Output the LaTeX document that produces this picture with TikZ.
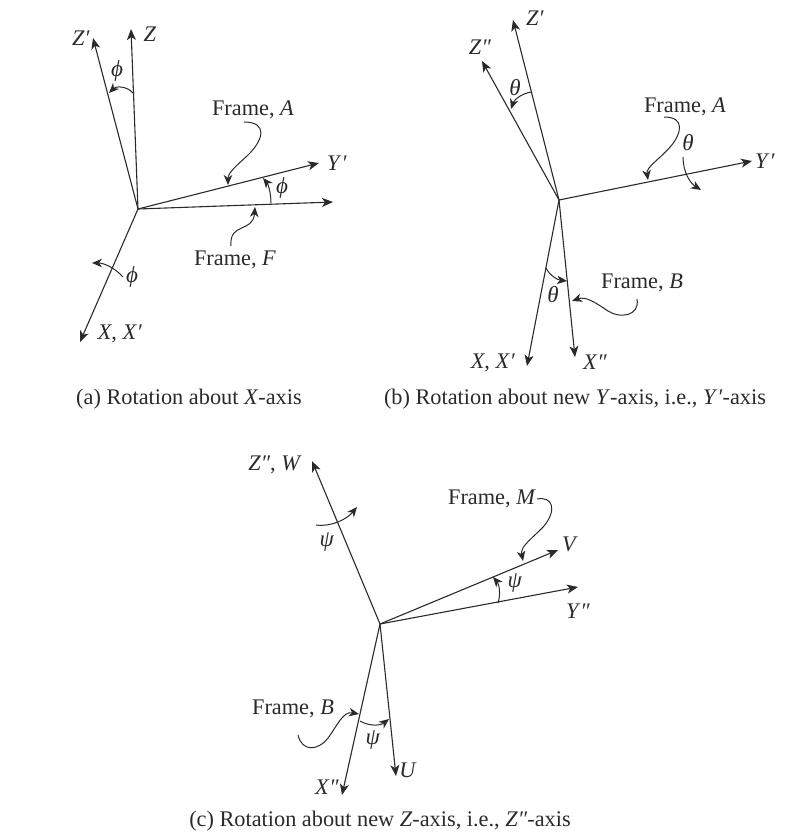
\documentclass[tikz,border=0pt]{standalone}
\usepackage{fontspec}
\setmainfont{Liberation Serif}
\usetikzlibrary{arrows.meta}
\definecolor{ink}{HTML}{2A2A2A}
\newcommand{\ph}{\textit{ϕ}}
\newcommand{\thh}{\textit{θ}}
\newcommand{\ps}{\textit{ψ}}
\newcommand{\pr}{\textit{′}}
\newcommand{\prr}{\textit{″}}
\tikzset{
  ax/.style={draw=ink,line width=1.1pt,-{Stealth[length=11pt,width=9pt,inset=3pt]}},
  lead/.style={draw=ink,line width=1pt,-{Stealth[length=10pt,width=8.5pt,inset=3pt]}},
  lab/.style={text=ink,font=\fontsize{22.3}{24}\selectfont,inner sep=0pt},
  greek/.style={text=ink,font=\fontsize{23}{25}\selectfont,inner sep=0pt},
  captext/.style={text=ink,font=\fontsize{22.3}{24}\selectfont,inner sep=0pt}
}
\begin{document}
\begin{tikzpicture}[x=1pt,y=-1pt]
\useasboundingbox (0,0) rectangle (801,840);
% (a)
\coordinate (oa) at (138,209);
\coordinate (az) at (131,29);
\coordinate (azp) at (93,38);
\coordinate (ayp) at (319,163);
\coordinate (ay) at (333,202);
\coordinate (ax) at (80,342);
\draw[ax] (oa)--(az); \draw[ax] (oa)--(azp); \draw[ax] (oa)--(ayp); \draw[ax] (oa)--(ay); \draw[ax] (oa)--(ax);
\node[lab] (lz) at (150,34) {\textit{Z}};
\node[lab] (lzp) at (81,38) {\textit{Z}\pr};
\node[lab] (lyp) at (337,163) {\textit{Y}\pr};
\node[lab] (lx) at (120,334) {\textit{X}, \textit{X}\pr};
\node[greek] (pa1) at (117,71) {\ph};
\node[greek] (pa2) at (282,188) {\ph};
\node[greek] (pa3) at (132,277) {\ph};
\node[lab] (fa) at (253,110) {Frame, \textit{A}};
\node[lab] (ff) at (235,260) {Frame, \textit{F}};
\coordinate (a1s) at (133,93); \coordinate (a1e) at (109,93);
\draw[lead] (a1s) .. controls (127,86) and (116,86) .. (a1e);
\coordinate (a2s) at (271,203); \coordinate (a2e) at (263,178);
\draw[lead] (a2s) .. controls (271,193) and (268,184) .. (a2e);
\coordinate (a3s) at (123,277); \coordinate (a3e) at (92,263);
\draw[lead] (a3s) .. controls (115,268) and (104,263) .. (a3e);
\coordinate (a4s) at (244,122); \coordinate (a4e) at (228,185);
\draw[lead] (a4s) .. controls (268,122) and (264,140) .. (247,156) .. controls (236,166) and (228,173) .. (a4e);
\coordinate (a5s) at (231,246); \coordinate (a5e) at (255,207);
\draw[lead] (a5s) .. controls (229,222) and (253,233) .. (a5e);
% (b)
\coordinate (ob) at (559,200);
\coordinate (bzp) at (513,20);
\coordinate (bzz) at (482,61);
\coordinate (byp) at (752,161);
\coordinate (bx) at (527,366);
\coordinate (bxx) at (575,357);
\draw[ax] (ob)--(bzp); \draw[ax] (ob)--(bzz); \draw[ax] (ob)--(byp); \draw[ax] (ob)--(bx); \draw[ax] (ob)--(bxx);
\node[lab] (lbzp) at (535,18) {\textit{Z}\pr};
\node[lab] (lbzz) at (480,47) {\textit{Z}\prr};
\node[lab] (lbyp) at (765,161) {\textit{Y}\pr};
\node[lab] (lbx) at (493,363) {\textit{X}, \textit{X}\pr};
\node[lab] (lbxx) at (595,362) {\textit{X}\prr};
\node[greek] (tb1) at (515,88) {\thh};
\node[greek] (tb2) at (688,143) {\thh};
\node[greek] (tb3) at (553,295) {\thh};
\node[lab] (fba) at (685,107) {Frame, \textit{A}};
\node[lab] (fbb) at (642,283) {Frame, \textit{B}};
\coordinate (b1s) at (532,92); \coordinate (b1e) at (511,109);
\draw[lead] (b1s) .. controls (522,93) and (514,100) .. (b1e);
\coordinate (b2s) at (683,157); \coordinate (b2e) at (701,190);
\draw[lead] (b2s) .. controls (683,172) and (690,183) .. (b2e);
\coordinate (b3s) at (546,268); \coordinate (b3e) at (567,281);
\draw[lead] (b3s) .. controls (550,276) and (558,280) .. (b3e);
\coordinate (b4s) at (664,117); \coordinate (b4e) at (648,180);
\draw[lead] (b4s) .. controls (686,117) and (681,134) .. (671,146) .. controls (660,159) and (646,167) .. (b4e);
\coordinate (b5s) at (637,299); \coordinate (b5e) at (572,301);
\draw[lead] (b5s) .. controls (640,316) and (620,319) .. (608,311) .. controls (596,303) and (586,296) .. (b5e);
% (c)
\coordinate (oc) at (380,624);
\coordinate (cw) at (312,461);
\coordinate (cv) at (558,550);
\coordinate (cy) at (578,587);
\coordinate (cx) at (342,795);
\coordinate (cu) at (396,776);
\draw[ax] (oc)--(cw); \draw[ax] (oc)--(cv); \draw[ax] (oc)--(cy); \draw[ax] (oc)--(cx); \draw[ax] (oc)--(cu);
\node[lab] (lcw) at (275,465) {\textit{Z}\prr, \textit{W}};
\node[lab] (lcv) at (570,544) {\textit{V}};
\node[lab] (lcy) at (578,611) {\textit{Y}\prr};
\node[lab] (lcx) at (327,787) {\textit{X}\prr};
\node[lab] (lcu) at (408,770) {\textit{U}};
\node[greek] (pc1) at (327,542) {\ps};
\node[greek] (pc2) at (515,583) {\ps};
\node[greek] (pc3) at (373,740) {\ps};
\node[lab] (fcm) at (492,499) {Frame, \textit{M}};
\node[lab] (fcb) at (293,709) {Frame, \textit{B}};
\coordinate (c1s) at (316,525); \coordinate (c1e) at (357,507);
\draw[lead] (c1s) .. controls (332,527) and (347,519) .. (c1e);
\coordinate (c2s) at (498,603); \coordinate (c2e) at (493,577);
\draw[lead] (c2s) .. controls (501,594) and (499,584) .. (c2e);
\coordinate (c3s) at (360,721); \coordinate (c3e) at (389,719);
\draw[lead] (c3s) .. controls (368,726) and (380,726) .. (c3e);
\coordinate (c4s) at (537,499); \coordinate (c4e) at (523,561);
\draw[lead] (c4s) .. controls (553,496) and (557,510) .. (544,526) .. controls (533,538) and (520,546) .. (c4e);
\coordinate (c5s) at (298,735); \coordinate (c5e) at (359,714);
\draw[lead] (c5s) .. controls (302,752) and (318,751) .. (328,738) .. controls (337,726) and (343,711) .. (c5e);
% captions
\node[captext] (ca) at (189,399) {(a) Rotation about \textit{X}-axis};
\node[captext] (cb) at (575,399) {(b) Rotation about new \textit{Y}-axis, i.e., \textit{Y}\pr-axis};
\node[captext] (cc) at (380,821) {(c) Rotation about new \textit{Z}-axis, i.e., \textit{Z}\prr-axis};
\end{tikzpicture}
\end{document}
